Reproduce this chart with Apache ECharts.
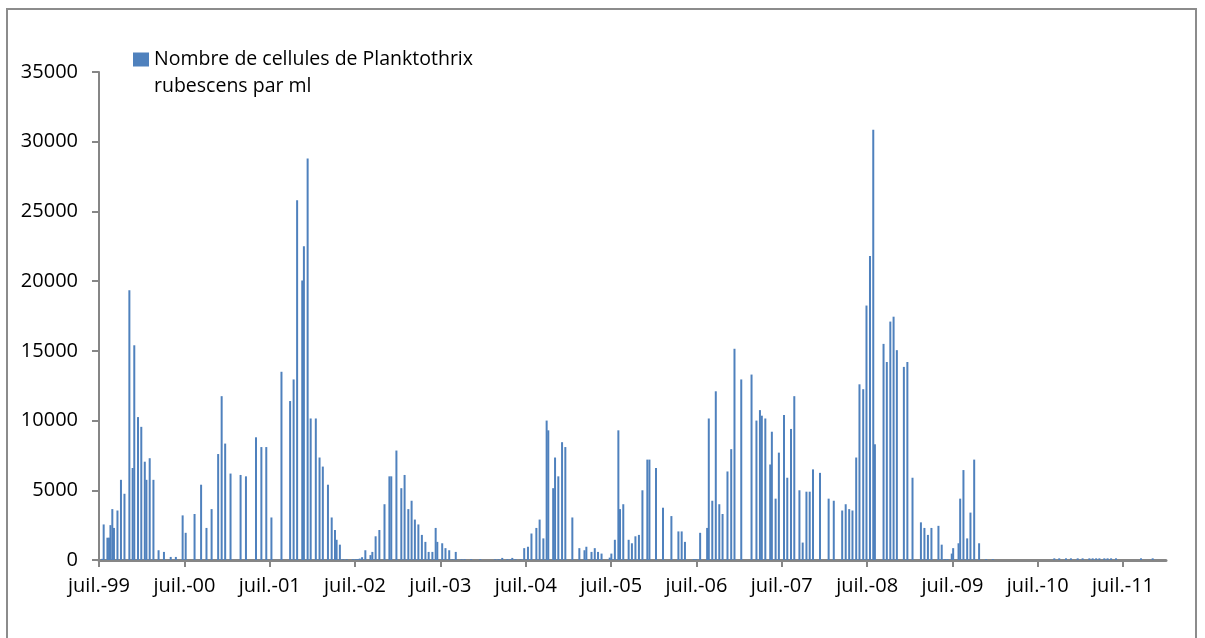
<!DOCTYPE html>
<html><head><meta charset="utf-8">
<script src="https://cdn.jsdelivr.net/npm/echarts@6/dist/echarts.min.js"></script>
<style>html,body{margin:0;padding:0;background:#fff}#c{width:1205px;height:638px}</style>
</head><body><div id="c"></div>
<script>
const seriesName = 'Nombre de cellules de Planktothrix rubescens par ml';
const legendLines = ['Nombre de cellules de Planktothrix', 'rubescens par ml'];
const tickDates = ['1999-07-01','2000-07-01','2001-07-01','2002-07-01','2003-07-01','2004-07-01','2005-07-01','2006-07-01','2007-07-01','2008-07-01','2009-07-01','2010-07-01','2011-07-01'];
const tickLabels = ['juil.-99','juil.-00','juil.-01','juil.-02','juil.-03','juil.-04','juil.-05','juil.-06','juil.-07','juil.-08','juil.-09','juil.-10','juil.-11'];
const axisStart = '1999-07-01';
const axisEnd = '2012-01-01';
const yMax = 35000;
const yStep = 5000;
const sampleDates = [
'1999-07-14','1999-07-21','1999-08-06','1999-08-13','1999-08-19','1999-08-27','1999-09-03','1999-09-18','1999-10-03','1999-10-18',
'1999-11-08','1999-11-22','1999-11-29','1999-12-15','1999-12-29','2000-01-13','2000-01-20','2000-02-03','2000-02-19','2000-03-12',
'2000-04-04','2000-05-03','2000-05-25','2000-06-23','2000-07-06','2000-08-13','2000-09-10','2000-10-03','2000-10-25','2000-11-22',
'2000-12-07','2000-12-22','2001-01-14','2001-02-26','2001-03-21','2001-05-03','2001-05-26','2001-06-16','2001-07-08','2001-08-20',
'2001-09-26','2001-10-11','2001-10-26','2001-11-17','2001-11-24','2001-12-10','2001-12-23','2002-01-14','2002-01-30','2002-02-13',
'2002-03-07','2002-03-23','2002-04-06','2002-04-13','2002-04-27','2002-05-11','2002-05-26','2002-06-22','2002-07-04','2002-07-12',
'2002-07-21','2002-07-31','2002-08-14','2002-09-05','2002-09-13','2002-09-27','2002-10-13','2002-11-04','2002-11-25','2002-12-03',
'2002-12-25','2003-01-15','2003-01-29','2003-02-14','2003-02-28','2003-03-14','2003-03-29','2003-04-13','2003-04-28','2003-05-12',
'2003-05-28','2003-06-11','2003-06-18','2003-07-09','2003-07-23','2003-08-08','2003-08-22','2003-09-05','2003-09-30','2003-10-13',
'2003-11-10','2003-12-19','2004-02-21','2004-03-06','2004-03-22','2004-04-13','2004-04-27','2004-05-04','2004-05-18','2004-06-09',
'2004-06-24','2004-07-10','2004-07-25','2004-08-15','2004-08-29','2004-09-14','2004-09-28','2004-10-05','2004-10-26','2004-11-03',
'2004-11-17','2004-12-03','2004-12-17','2005-01-16','2005-02-15','2005-03-09','2005-03-17','2005-04-08','2005-04-22','2005-05-06',
'2005-05-21','2005-06-25','2005-07-02','2005-07-17','2005-08-01','2005-08-08','2005-08-22','2005-09-14','2005-09-28','2005-10-13',
'2005-10-28','2005-11-12','2005-12-03','2005-12-12','2006-01-09','2006-02-08','2006-03-16','2006-04-15','2006-04-29','2006-05-13',
'2006-06-20','2006-06-30','2006-07-17','2006-08-16','2006-08-23','2006-09-07','2006-09-22','2006-10-07','2006-10-21','2006-11-11',
'2006-11-27','2006-12-11','2007-01-09','2007-02-22','2007-03-15','2007-03-30','2007-04-07','2007-04-22','2007-05-13','2007-05-20',
'2007-06-05','2007-06-19','2007-07-11','2007-07-25','2007-08-10','2007-08-24','2007-09-15','2007-09-29','2007-10-15','2007-10-29',
'2007-11-12','2007-12-12','2008-01-18','2008-02-09','2008-03-16','2008-03-31','2008-04-15','2008-04-29','2008-05-15','2008-05-29',
'2008-06-14','2008-06-28','2008-07-13','2008-07-27','2008-08-03','2008-09-09','2008-09-23','2008-10-08','2008-10-22','2008-11-05',
'2008-12-05','2008-12-20','2009-01-11','2009-02-16','2009-03-03','2009-03-18','2009-04-02','2009-05-02','2009-05-16','2009-05-30',
'2009-06-10','2009-06-28','2009-07-04','2009-07-27','2009-08-03','2009-08-17','2009-09-02','2009-09-16','2009-10-02','2009-10-23',
'2009-11-22','2009-12-21','2010-09-10','2010-10-01','2010-10-30','2010-11-20','2010-12-19','2011-01-09','2011-02-07','2011-02-21',
'2011-03-08','2011-03-22','2011-04-12','2011-04-26','2011-05-11','2011-06-01','2011-09-16','2011-11-05'
];
const cellCounts = [
80,2550,1600,1600,2500,3650,2300,3550,5750,4750,
19350,6600,15400,10250,9550,7050,5750,7300,5750,700,
580,220,220,3200,1950,3300,5400,2300,3650,7600,
11750,8350,6200,6100,6000,8800,8100,8100,3050,13500,
11400,12950,25800,20050,22500,28800,10150,10150,7350,6700,
5400,3050,2150,1450,1100,60,60,60,60,60,
100,200,700,350,580,1700,2150,4000,6000,6000,
7850,5150,6100,3650,4250,2900,2550,1800,1300,580,
580,2300,1300,1200,850,700,60,580,60,60,
60,60,60,60,150,60,60,150,60,60,
850,950,1900,2300,2900,1550,10000,9300,5150,7350,
6000,8450,8100,3050,850,700,950,580,850,580,
460,170,460,1450,9300,3650,4000,1450,1200,1700,
1800,5000,7200,7200,6600,3750,3150,2050,2050,1300,
60,60,1950,2300,10150,4250,12100,4000,3300,6350,
7950,15150,12950,13300,10000,10750,10350,10150,6850,9200,
4400,7700,10400,5900,9400,11750,5000,1250,4900,4900,
6500,6250,4400,4250,3550,4000,3650,3550,7350,12600,
12250,18250,21800,30850,8300,15500,14200,17100,17450,15050,
13850,14200,5900,2700,2300,1800,2300,2450,1100,60,
60,460,850,1200,4400,6450,1550,3400,7200,1200,
60,60,120,120,120,120,120,120,120,120,
120,120,120,120,120,120,120,120
];

function ts(s){const p=s.split('-').map(Number);return Date.UTC(p[0],p[1]-1,p[2]);}
const tickValues = tickDates.map(ts);
const labelMap = {};
tickValues.forEach((v,i)=>{labelMap[v]=tickLabels[i];});
const data = sampleDates.map((d,i)=>[ts(d), cellCounts[i]]);
const FONT = 'Open Sans';
const axisColor = '#868686';

const chart = echarts.init(document.getElementById('c'), null, {renderer:'canvas'});
chart.setOption({
  animation:false,
  backgroundColor:'#ffffff',
  graphic:[{type:'rect', shape:{x:7,y:9,width:1189,height:640}, style:{fill:'none', stroke:'#8c8c8c', lineWidth:2}, z:-1}],
  legend:{
    left:133, top:19, padding:0,
    icon:'rect', itemWidth:16, itemHeight:14,
    data:[seriesName],
    formatter:()=>'\n' + legendLines.join('\n'),
    textStyle:{fontFamily:FONT, fontSize:19.5, color:'#000', lineHeight:27}
  },
  grid:{left:99, right:39, top:72, bottom:78, containLabel:false},
  xAxis:{
    type:'value', min:ts(axisStart), max:ts(axisEnd), scale:true,
    axisLine:{show:true, onZero:false, lineStyle:{color:axisColor, width:3}},
    axisTick:{show:true, customValues:tickValues, length:7, lineStyle:{color:axisColor, width:2}},
    axisLabel:{customValues:tickValues, formatter:(v)=>labelMap[v]||'', fontFamily:FONT, fontSize:20, color:'#000', margin:16, showMinLabel:true, showMaxLabel:true},
    splitLine:{show:false}
  },
  yAxis:{
    type:'value', min:0, max:yMax, interval:yStep,
    axisLine:{show:true, lineStyle:{color:axisColor, width:2}},
    axisTick:{show:true, length:7, lineStyle:{color:axisColor, width:2}},
    axisLabel:{fontFamily:FONT, fontSize:20, color:'#000', margin:21, formatter:(v)=>String(v)},
    splitLine:{show:false}
  },
  series:[{
    name:seriesName, type:'bar', data:data, barWidth:2,
    itemStyle:{color:'#4F81BD'}
  }]
});
</script></body></html>
